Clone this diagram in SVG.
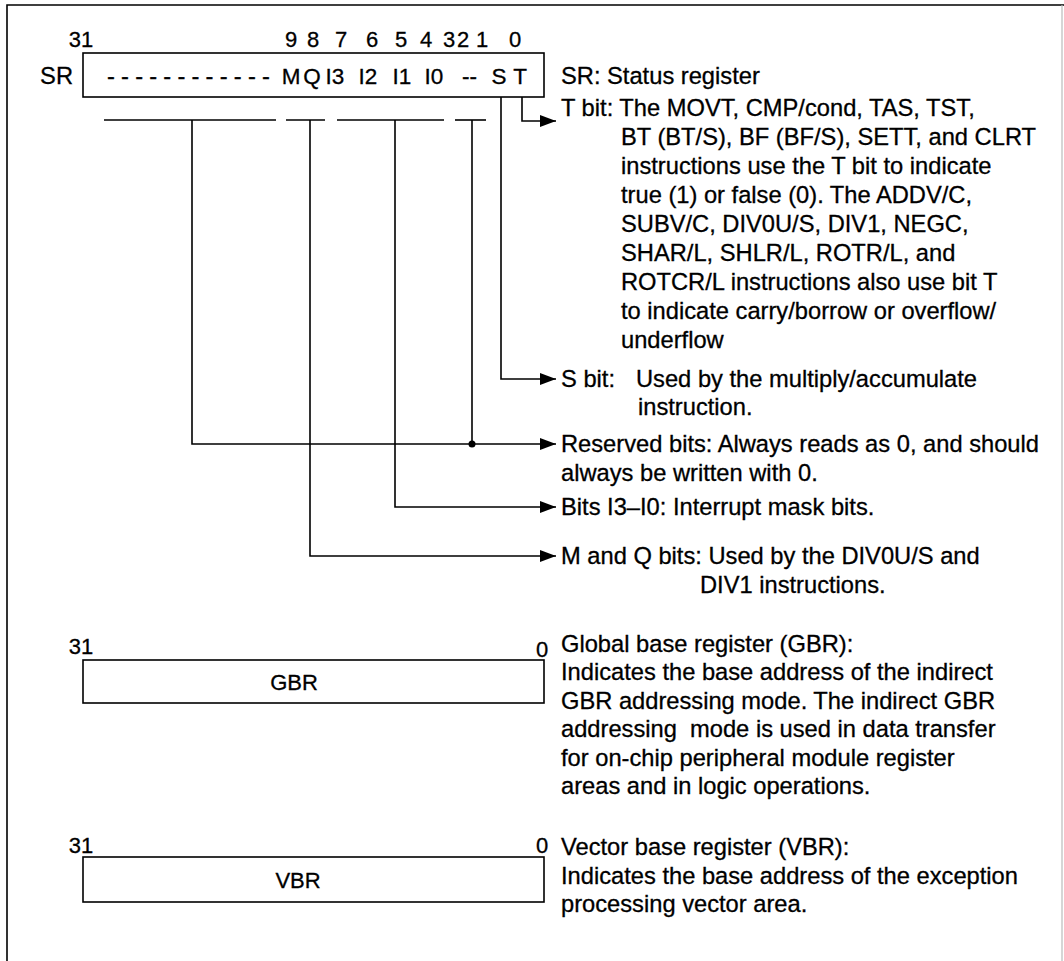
<svg xmlns="http://www.w3.org/2000/svg" width="1064" height="961" viewBox="0 0 1064 961">
<style>
text{font-family:"Liberation Sans",Arial,Helvetica,sans-serif;fill:#000;stroke:#000;stroke-width:0.3}
.t{font-size:23.7px}
.n{font-size:22px;text-anchor:middle}
.b{font-size:22.5px;text-anchor:middle}
.ln{stroke:#000;stroke-width:1.6;fill:none}
.box{fill:#fff;stroke:#000;stroke-width:1.6}
</style>
<defs>
<marker id="ah" viewBox="0 0 16 12" refX="16" refY="6" markerWidth="16" markerHeight="12" markerUnits="userSpaceOnUse" orient="auto">
<path d="M0,0 L16,6 L0,12 Z" fill="#000"/>
</marker>
</defs>
<rect width="1064" height="961" fill="#fff"/>
<path d="M7,961 V5 H1064" class="ln"/>
<line x1="1062" y1="5" x2="1062" y2="961" stroke="#bbb" stroke-width="1.2"/>

<g id="sr">
<text class="n" x="81" y="47">31</text>
<text class="n" x="291" y="47">9</text>
<text class="n" x="313" y="47">8</text>
<text class="n" x="341" y="47">7</text>
<text class="n" x="372" y="47">6</text>
<text class="n" x="401" y="47">5</text>
<text class="n" x="426" y="47">4</text>
<text class="n" x="449" y="47">3</text>
<text class="n" x="463" y="47">2</text>
<text class="n" x="482" y="47">1</text>
<text class="n" x="515" y="47">0</text>
<text class="t" x="73" y="84" text-anchor="end">SR</text>
<rect class="box" x="83" y="53" width="461" height="44"/>
<text class="t" x="107" y="84" letter-spacing="6.2">------------</text>
<text class="b" x="291" y="84">M</text>
<text class="b" x="312" y="84">Q</text>
<text class="b" x="335" y="84">I3</text>
<text class="b" x="368" y="84">I2</text>
<text class="b" x="402" y="84">I1</text>
<text class="b" x="434" y="84">I0</text>
<text class="b" x="469.5" y="84">--</text>
<text class="b" x="499" y="84">S</text>
<text class="b" x="520" y="84">T</text>
</g>

<g id="connectors">
<line class="ln" x1="104" y1="120" x2="276" y2="120"/>
<line class="ln" x1="286" y1="120" x2="325" y2="120"/>
<line class="ln" x1="337" y1="120" x2="444" y2="120"/>
<line class="ln" x1="455" y1="120" x2="486" y2="120"/>
<path class="ln" d="M522,97 V121 H556" marker-end="url(#ah)"/>
<path class="ln" d="M501,97 V379 H556" marker-end="url(#ah)"/>
<path class="ln" d="M192,120 V444 H556" marker-end="url(#ah)"/>
<line class="ln" x1="472" y1="120" x2="472" y2="444"/>
<circle cx="472" cy="444" r="3.5" fill="#000"/>
<path class="ln" d="M395,120 V507 H556" marker-end="url(#ah)"/>
<path class="ln" d="M310,120 V556 H556" marker-end="url(#ah)"/>
</g>

<g id="sr-desc">
<text class="t" x="561" y="84">SR: Status register</text>
<text class="t" x="561" y="116">T bit: The MOVT, CMP/cond, TAS, TST,</text>
<text class="t" x="621" y="145">BT (BT/S), BF (BF/S), SETT, and CLRT</text>
<text class="t" x="621" y="174">instructions use the T bit to indicate</text>
<text class="t" x="621" y="203">true (1) or false (0). The ADDV/C,</text>
<text class="t" x="621" y="232">SUBV/C, DIV0U/S, DIV1, NEGC,</text>
<text class="t" x="621" y="261">SHAR/L, SHLR/L, ROTR/L, and</text>
<text class="t" x="621" y="290">ROTCR/L instructions also use bit T</text>
<text class="t" x="621" y="319">to indicate carry/borrow or overflow/</text>
<text class="t" x="621" y="348">underflow</text>
</g>
<g id="s-bit">
<text class="t" x="561" y="387">S bit:</text>
<text class="t" x="636" y="387">Used by the multiply/accumulate</text>
<text class="t" x="638" y="415">instruction.</text>
</g>
<g id="reserved">
<text class="t" x="561" y="452">Reserved bits: Always reads as 0, and should</text>
<text class="t" x="561" y="481">always be written with 0.</text>
</g>
<g id="imask">
<text class="t" x="561" y="515">Bits I3–I0: Interrupt mask bits.</text>
</g>
<g id="mq">
<text class="t" x="561" y="564">M and Q bits: Used by the DIV0U/S and</text>
<text class="t" x="700" y="593">DIV1 instructions.</text>
</g>

<g id="gbr">
<text class="n" x="81" y="654">31</text>
<text class="n" x="542" y="657">0</text>
<rect class="box" x="83" y="660" width="461" height="43"/>
<text class="n" x="294" y="690">GBR</text>
<text class="t" x="561" y="652">Global base register (GBR):</text>
<text class="t" x="561" y="680">Indicates the base address of the indirect</text>
<text class="t" x="561" y="709">GBR addressing mode. The indirect GBR</text>
<text class="t" x="561" y="737" xml:space="preserve">addressing  mode is used in data transfer</text>
<text class="t" x="561" y="766">for on-chip peripheral module register</text>
<text class="t" x="561" y="794">areas and in logic operations.</text>
</g>

<g id="vbr">
<text class="n" x="81" y="853">31</text>
<text class="n" x="542" y="853">0</text>
<rect class="box" x="83" y="857" width="461" height="45"/>
<text class="n" x="298" y="888">VBR</text>
<text class="t" x="561" y="855">Vector base register (VBR):</text>
<text class="t" x="561" y="884">Indicates the base address of the exception</text>
<text class="t" x="561" y="912">processing vector area.</text>
</g>
</svg>
